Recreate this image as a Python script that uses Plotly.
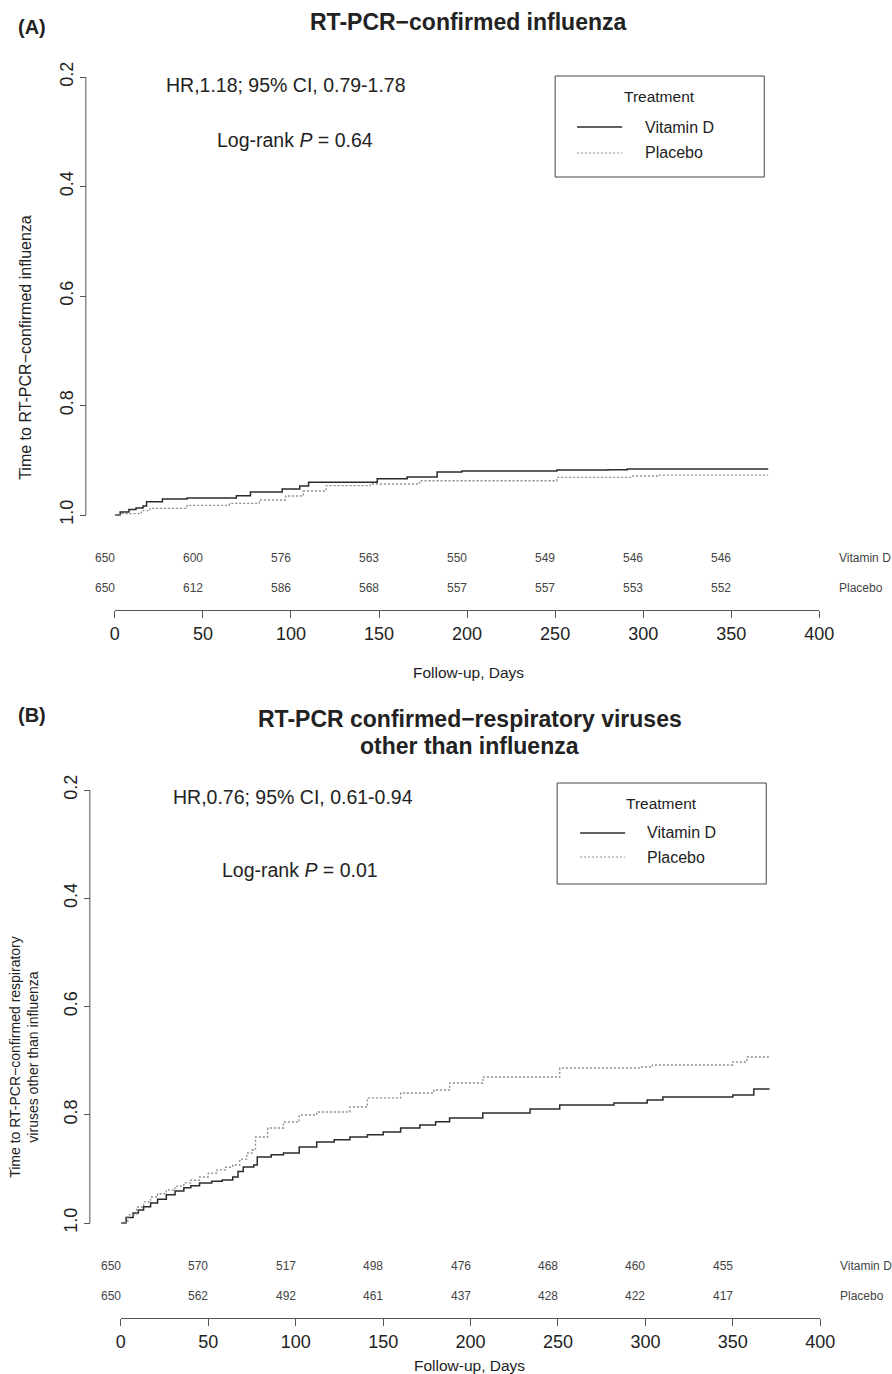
import plotly.graph_objects as go

W, H = 892, 1374
FONT = "Liberation Sans, Arial, sans-serif"

# ---------------- data ----------------
# Panel A: RT-PCR-confirmed influenza (Kaplan-Meier survival)
a_vitd_days = [0, 3, 8, 12, 16, 18, 27, 41, 69, 77, 95, 105, 110, 149, 166, 183, 197, 251, 280, 291, 371]
a_vitd_surv = [1.0, 0.9945, 0.990, 0.987, 0.9836, 0.976, 0.971, 0.969, 0.965, 0.958, 0.9525, 0.947,
               0.940, 0.934, 0.9306, 0.9215, 0.9196, 0.918, 0.9175, 0.916, 0.916]
a_plac_days = [0, 4, 15, 20, 41, 65, 82, 97, 107, 120, 145, 173, 251, 294, 308, 371]
a_plac_surv = [1.0, 0.9976, 0.992, 0.9878, 0.9823, 0.9787, 0.9726, 0.9653, 0.9562, 0.9465, 0.9434,
               0.9374, 0.9312, 0.9288, 0.927, 0.927]

# Panel B: RT-PCR confirmed respiratory viruses other than influenza
b_vitd_days = [0, 3, 7, 10, 13, 17, 21, 26, 31, 36, 40, 45, 52, 58, 64, 67, 70, 76, 78, 86, 93, 102,
               112, 122, 131, 141, 150, 160, 171, 180, 188, 207, 234, 251, 282, 301, 310, 350, 362, 371]
b_vitd_surv = [1.0, 0.990, 0.9815, 0.976, 0.970, 0.963, 0.956, 0.948, 0.941, 0.935, 0.931, 0.926,
               0.923, 0.9205, 0.915, 0.905, 0.8965, 0.8928, 0.878, 0.874, 0.8707, 0.8596, 0.8503,
               0.846, 0.8411, 0.837, 0.8319, 0.8245, 0.819, 0.813, 0.806, 0.7968, 0.7894, 0.782,
               0.7783, 0.7727, 0.7672, 0.7635, 0.7524, 0.7524]
b_plac_days = [0, 4, 9, 13, 17, 21, 26, 31, 36, 40, 45, 50, 55, 60, 64, 68, 72, 75, 77, 84, 93, 102,
               112, 131, 141, 160, 179, 188, 207, 251, 297, 304, 350, 358, 371]
b_plac_surv = [1.0, 0.985, 0.9704, 0.961, 0.952, 0.946, 0.939, 0.932, 0.926, 0.921, 0.915, 0.908,
               0.902, 0.897, 0.8928, 0.882, 0.8707, 0.8651, 0.8411, 0.8245, 0.8134, 0.8005, 0.7949,
               0.7857, 0.769, 0.7598, 0.7543, 0.7413, 0.7303, 0.7136, 0.7118, 0.7081, 0.7025, 0.6933,
               0.6933]

# Numbers at risk
risk_days = [0, 50, 100, 150, 200, 250, 300, 350]
a_risk_vitd = [650, 600, 576, 563, 550, 549, 546, 546]
a_risk_plac = [650, 612, 586, 568, 557, 557, 553, 552]
b_risk_vitd = [650, 570, 517, 498, 476, 468, 460, 455]
b_risk_plac = [650, 562, 492, 461, 437, 428, 422, 417]

x_ticks = [0, 50, 100, 150, 200, 250, 300, 350, 400]
y_ticks = [0.2, 0.4, 0.6, 0.8, 1.0]
y_ticktext = ["0.2", "0.4", "0.6", "0.8", "1.0"]

# ---------------- helpers ----------------
def px(x):
    # horizontal pixel position in the target picture -> paper fraction
    return ((x - 5.2) / 0.977) / W

def py(y):
    return 1 - y / H

def yrange(top_px, bot_px, v02_px, v10_px):
    per = (v10_px - v02_px) / 0.8
    return [1.0 + (bot_px - v10_px) / per, 0.2 - (v02_px - top_px) / per]

SOLID = dict(color="#2b2b2b", width=1.5)
DOT = dict(color="#8c8c8c", width=1.3, dash="2px,2px")

fig = go.Figure()
fig.add_trace(go.Scatter(x=a_vitd_days, y=a_vitd_surv, mode="lines", line=SOLID, line_shape="hv",
                         name="Vitamin D", xaxis="x", yaxis="y", showlegend=False))
fig.add_trace(go.Scatter(x=a_plac_days, y=a_plac_surv, mode="lines", line=DOT, line_shape="hv",
                         name="Placebo", xaxis="x", yaxis="y", showlegend=False))
fig.add_trace(go.Scatter(x=b_vitd_days, y=b_vitd_surv, mode="lines", line=SOLID, line_shape="hv",
                         name="Vitamin D", xaxis="x2", yaxis="y2", showlegend=False))
fig.add_trace(go.Scatter(x=b_plac_days, y=b_plac_surv, mode="lines", line=DOT, line_shape="hv",
                         name="Placebo", xaxis="x2", yaxis="y2", showlegend=False))

AX = "#555555"
xcommon = dict(range=[0, 400], tickvals=x_ticks, ticks="outside", ticklen=7, tickcolor=AX,
               showline=True, linecolor=AX, linewidth=1, showgrid=False, zeroline=False,
               tickfont=dict(size=18, color="#222", family=FONT), anchor="free", fixedrange=True)
ycommon = dict(tickvals=y_ticks, ticktext=y_ticktext, tickangle=-90, ticks="outside", ticklen=6,
               tickcolor=AX, showline=False, showgrid=False, zeroline=False,
               tickfont=dict(size=18, color="#222", family=FONT), anchor="free", fixedrange=True)

layout = dict(
    width=W, height=H, margin=dict(l=0, r=0, t=0, b=0),
    paper_bgcolor="white", plot_bgcolor="white", showlegend=False,
    font=dict(family=FONT, color="#222"),
    xaxis=dict(xcommon, domain=[px(115), px(819)], position=py(610)),
    yaxis=dict(ycommon, domain=[py(530), py(62)], range=yrange(62, 530, 77, 515), position=px(86)),
    xaxis2=dict(xcommon, domain=[px(121), px(820)], position=py(1318)),
    yaxis2=dict(ycommon, domain=[py(1238), py(775)], range=yrange(775, 1238, 790, 1223), position=px(90)),
)
fig.update_layout(**layout)

shapes = []
# y axis lines (only between 0.2 and 1.0, R style)
shapes.append(dict(type="line", xref="paper", yref="y", x0=px(86), x1=px(86), y0=0.2, y1=1.0,
                   line=dict(color=AX, width=1)))
shapes.append(dict(type="line", xref="paper", yref="y2", x0=px(90), x1=px(90), y0=0.2, y1=1.0,
                   line=dict(color=AX, width=1)))

annotations = []

def ann(text, x, y, size, xanchor="center", angle=0, color="#222", align="center"):
    annotations.append(dict(text=text, x=px(x), y=py(y), xref="paper", yref="paper",
                            xanchor=xanchor, yanchor="middle", showarrow=False, textangle=angle,
                            align=align, font=dict(size=size, color=color, family=FONT)))

def legend_box(x0, y0, x1, y1, ty, vy, pyy, lx0, lx1, tx):
    shapes.append(dict(type="rect", xref="paper", yref="paper", x0=px(x0), x1=px(x1), y0=py(y1), y1=py(y0),
                       line=dict(color="#444", width=1), fillcolor="rgba(0,0,0,0)"))
    shapes.append(dict(type="line", xref="paper", yref="paper", x0=px(lx0), x1=px(lx1), y0=py(vy), y1=py(vy),
                       line=dict(color="#2b2b2b", width=1.4)))
    shapes.append(dict(type="line", xref="paper", yref="paper", x0=px(lx0), x1=px(lx1), y0=py(pyy), y1=py(pyy),
                       line=dict(color="#8c8c8c", width=1.2, dash="2px,2px")))
    ann("Treatment", (x0 + x1) / 2 + 0, ty, 15.5)
    ann("Vitamin D", tx, vy, 16, xanchor="left")
    ann("Placebo", tx, pyy, 16, xanchor="left")

def risk_table(xref, rows_y, vitd, plac, label_x):
    for vals, yy in zip((vitd, plac), rows_y):
        for d, v in zip(risk_days, vals):
            annotations.append(dict(text=str(v), x=d, y=py(yy), xref=xref, yref="paper", xshift=-10,
                                    xanchor="center", yanchor="middle", showarrow=False,
                                    font=dict(size=12, color="#444", family=FONT)))
    ann("Vitamin D", label_x, rows_y[0], 12, xanchor="left", color="#444")
    ann("Placebo", label_x, rows_y[1], 12, xanchor="left", color="#444")

# ---- Panel A ----
ann("<b>(A)</b>", 16, 27, 20, xanchor="left")
ann("<b>RT-PCR\u2212confirmed influenza</b>", 468, 22, 23)
ann("HR,1.18; 95% CI, 0.79-1.78", 286, 85, 19.5)
ann("Log-rank <i>P</i> = 0.64", 295, 140, 19.5)
ann("Time to RT-PCR\u2212confirmed influenza", 25, 347, 16, angle=-90)
ann("Follow-up, Days", 468, 672, 15.5)
legend_box(555, 76, 764, 177, 97, 127, 153, 577, 622, 643)
risk_table("x", (558, 588), a_risk_vitd, a_risk_plac, 837)

# ---- Panel B ----
ann("<b>(B)</b>", 16, 715, 20, xanchor="left")
ann("<b>RT-PCR confirmed\u2212respiratory viruses</b>", 470, 719, 23)
ann("<b>other than influenza</b>", 469, 746, 23)
ann("HR,0.76; 95% CI, 0.61-0.94", 293, 797, 19.5)
ann("Log-rank <i>P</i> = 0.01", 300, 870, 19.5)
ann("Time to RT-PCR\u2212confirmed respiratory<br>viruses other than influenza", 24, 1057, 14, angle=-90)
ann("Follow-up, Days", 469, 1365, 15.5)
legend_box(557, 783, 766, 884, 803, 833, 857, 580, 625, 645)
risk_table("x2", (1266, 1296), b_risk_vitd, b_risk_plac, 838)

fig.update_layout(shapes=shapes, annotations=annotations)
fig.write_html("out.html", config={"displayModeBar": False})

# remove the default 8px page margin so the figure sits at the window's top-left corner
with open("out.html", "r", encoding="utf-8") as f:
    page = f.read()
page = page.replace("<head>", "<head><style>html,body{margin:0;padding:0;overflow:hidden;}</style>", 1)
with open("out.html", "w", encoding="utf-8") as f:
    f.write(page)
